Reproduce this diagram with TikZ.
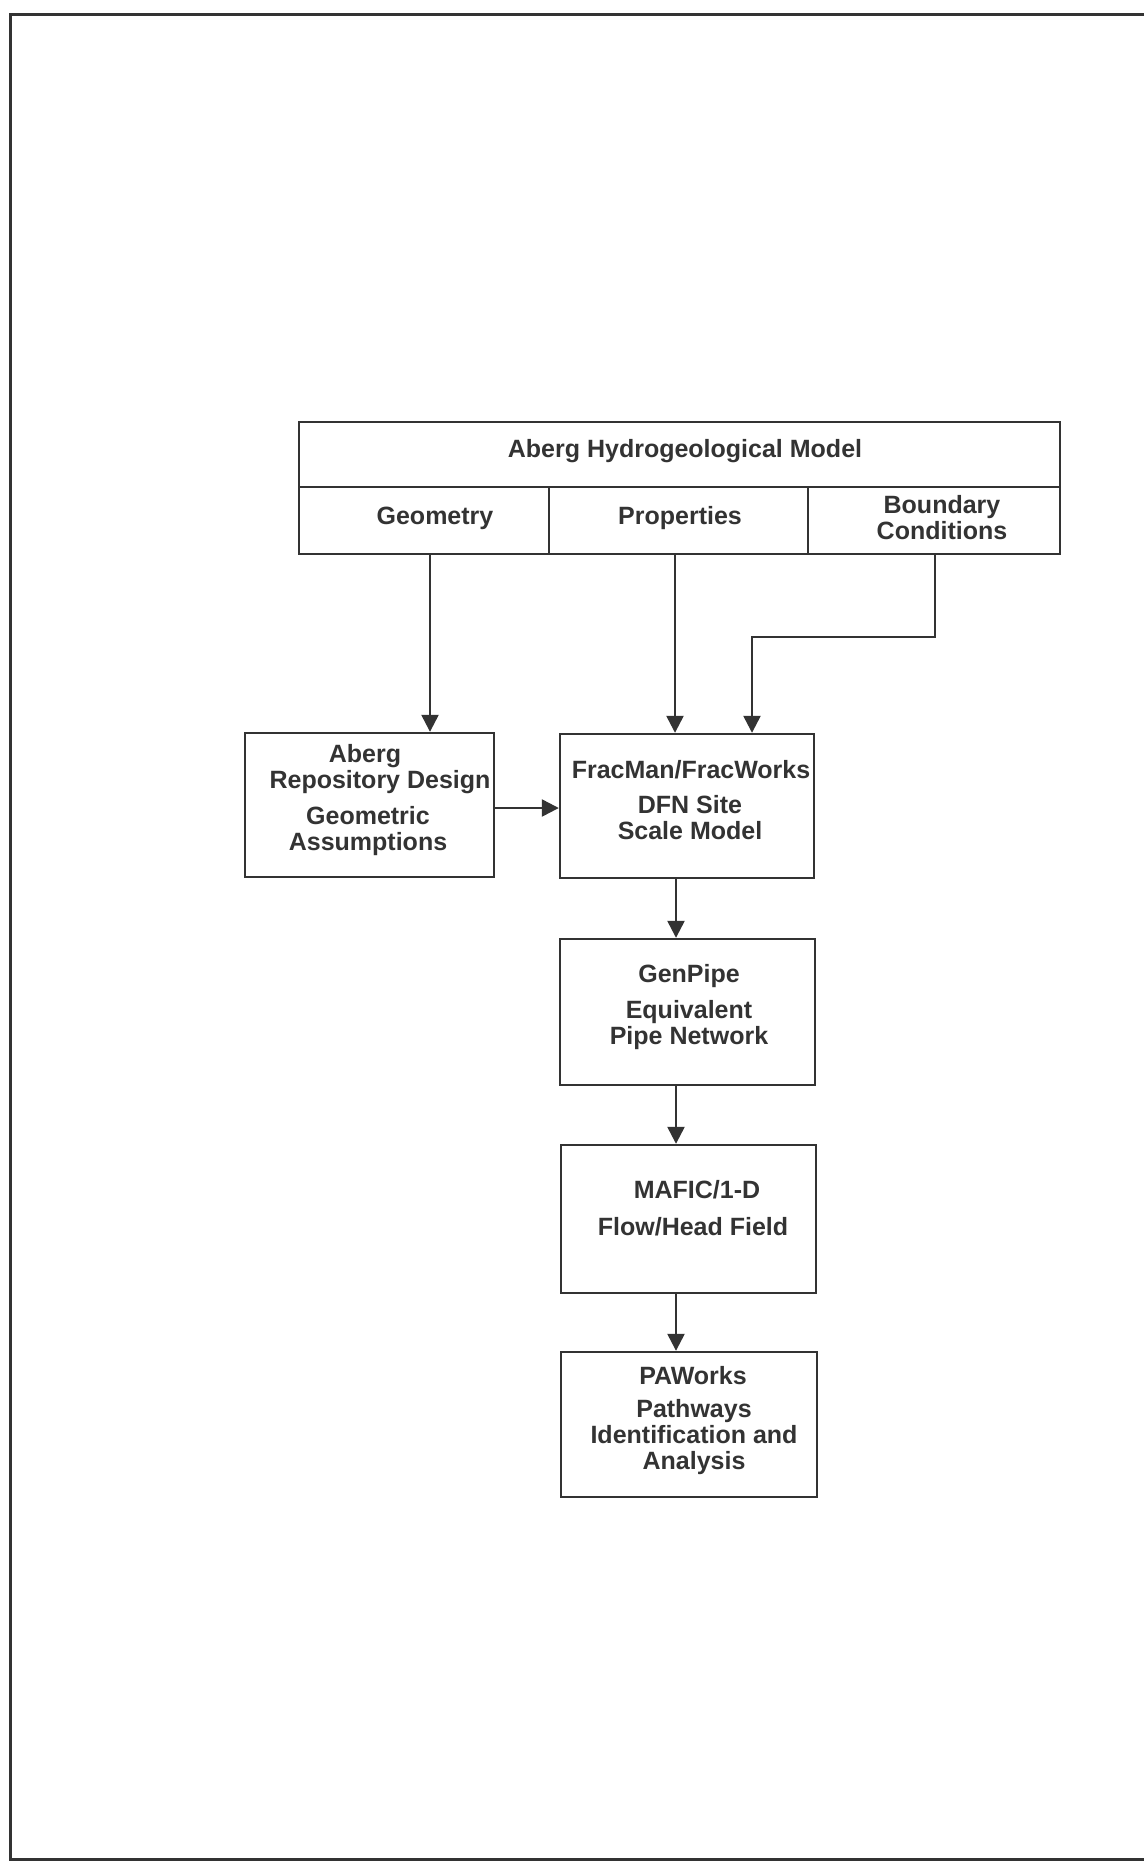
\documentclass[tikz,border=0pt]{standalone}
\usepackage{fontspec}
\setmainfont{Liberation Sans}
\usetikzlibrary{arrows.meta,calc}
\definecolor{ink}{HTML}{333333}
\tikzset{
  boxs/.style={draw=ink, line width=2.4pt, rectangle, inner sep=0pt},
  txt/.style={text=ink, font=\fontsize{25}{26}\selectfont\bfseries, align=center, inner sep=0pt},
  arr/.style={draw=ink, line width=2.4pt, -{Triangle[length=17pt,width=17pt]}},
}
\begin{document}
\begin{tikzpicture}[x=1pt,y=-1pt]
\useasboundingbox (0,0) rectangle (1144,1863);
% page frame
\draw[ink, line width=3pt] (1144,14) -- (10,14) -- (10,1859) -- (1144,1859);

% top model box
\node[boxs, minimum width=761pt, minimum height=65pt] (title) at (679.5,454.5) {};
\node[boxs, minimum width=250pt, minimum height=67pt] (geo) at (424,520.5) {};
\node[boxs, minimum width=259pt, minimum height=67pt] (prop) at (678.5,520.5) {};
\node[boxs, minimum width=252pt, minimum height=67pt] (bc) at (934,520.5) {};
\node[txt] (ttitle) at (685,451) {Aberg Hydrogeological Model};
\node[txt] (tgeo) at (435,518) {Geometry};
\node[txt] (tprop) at (680,518) {Properties};
\node[txt] (tbc) at (942,518) {Boundary\\Conditions};

% boxes
\node[boxs, minimum width=249pt, minimum height=144pt] (aberg) at (369.5,805) {};
\node[boxs, minimum width=254pt, minimum height=144pt] (frac) at (687,806) {};
\node[boxs, minimum width=255pt, minimum height=146pt] (gen) at (687.5,1012) {};
\node[boxs, minimum width=255pt, minimum height=148pt] (mafic) at (688.5,1219) {};
\node[boxs, minimum width=256pt, minimum height=145pt] (paw) at (689,1424.5) {};

% box texts
\node[txt] (t1a) at (365,756) {Aberg};
\node[txt] (t1b) at (380,782) {Repository Design};
\node[txt] (t1c) at (368,831) {Geometric\\Assumptions};
\node[txt] (t2a) at (691,770) {FracMan/FracWorks};
\node[txt] (t2b) at (690,818) {DFN Site\\Scale Model};
\node[txt] (t3a) at (689,976) {GenPipe};
\node[txt] (t3b) at (689,1025) {Equivalent\\Pipe Network};
\node[txt] (t4a) at (697,1190) {MAFIC/1-D};
\node[txt] (t4b) at (693,1227) {Flow/Head Field};
\node[txt] (t5a) at (693,1376) {PAWorks};
\node[txt] (t5b) at (694,1437) {Pathways\\Identification and\\Analysis};

% connectors
\coordinate (gx) at (430,0);
\coordinate (px) at (675,0);
\coordinate (bx) at (935,0);
\coordinate (hy) at (0,808);
\coordinate (bturn) at (935,637);
\coordinate (bdrop) at (752,637);
\coordinate (vx) at (676,0);
\draw[arr] (geo.south -| gx) -- (aberg.north -| gx);
\draw[arr] (prop.south -| px) -- (frac.north -| px);
\draw[arr] (bc.south -| bx) -- (bturn) -- (bdrop) -- (frac.north -| bdrop);
\draw[arr] (aberg.east |- hy) -- (frac.west |- hy);
\draw[arr] (frac.south -| vx) -- (gen.north -| vx);
\draw[arr] (gen.south -| vx) -- (mafic.north -| vx);
\draw[arr] (mafic.south -| vx) -- (paw.north -| vx);
\end{tikzpicture}
\end{document}
